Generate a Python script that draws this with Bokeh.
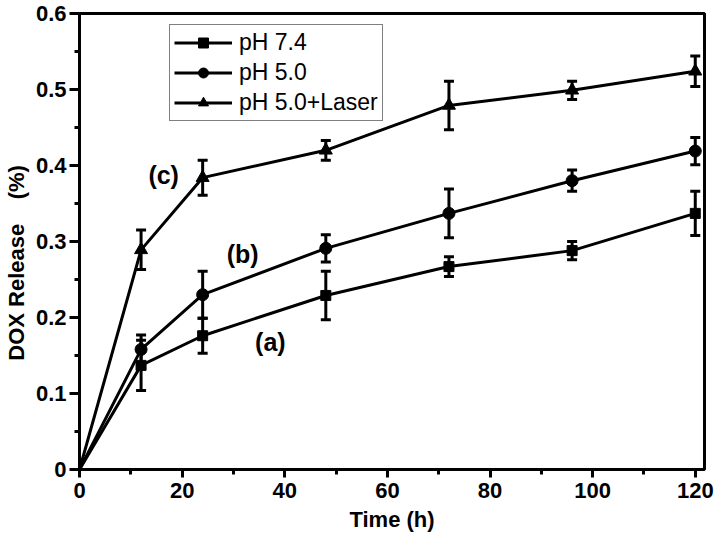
from bokeh.plotting import figure
from bokeh.models import (ColumnDataSource, Range1d, FixedTicker, Whisker, TeeHead,
                          Legend, LegendItem, Label)
from bokeh.embed import file_html
from bokeh.resources import INLINE

# ---- data ----
time_h = [0, 12, 24, 48, 72, 96, 120]
ph74 = [0, 0.137, 0.176, 0.229, 0.267, 0.288, 0.337]
ph74_err = [0, 0.033, 0.023, 0.032, 0.013, 0.012, 0.029]
ph50 = [0, 0.158, 0.230, 0.291, 0.337, 0.380, 0.419]
ph50_err = [0, 0.019, 0.031, 0.018, 0.032, 0.014, 0.018]
laser = [0, 0.289, 0.384, 0.420, 0.479, 0.499, 0.524]
laser_err = [0, 0.026, 0.023, 0.013, 0.032, 0.012, 0.020]
series_names = ["pH 7.4", "pH 5.0", "pH 5.0+Laser"]
markers = ["square", "circle", "triangle"]
x_ticks = [0, 20, 40, 60, 80, 100, 120]
x_minor = [10, 30, 50, 70, 90, 110]
y_ticks = [0.0, 0.1, 0.2, 0.3, 0.4, 0.5, 0.6]
y_minor = [0.05, 0.15, 0.25, 0.35, 0.45, 0.55]
annotations = [("(a)", 37.2, 0.168), ("(b)", 31.8, 0.283), ("(c)", 16.4, 0.387)]

FONT = "Liberation Sans"

p = figure(width=714, height=539, output_backend="svg", toolbar_location=None,
           x_range=Range1d(0, 121.8), y_range=Range1d(0, 0.6),
           min_border_left=75, min_border_right=10, min_border_top=13,
           min_border_bottom=70)
p.grid.visible = False
p.outline_line_color = "black"
p.outline_line_width = 3
p.background_fill_color = "white"
p.border_fill_color = "white"

for ax in (p.xaxis[0], p.yaxis[0]):
    ax.axis_line_width = 3
    ax.major_tick_line_width = 3
    ax.minor_tick_line_width = 3
    ax.major_tick_in = 0
    ax.minor_tick_in = 0
    ax.major_label_text_font = FONT
    ax.major_label_text_font_style = "bold"
    ax.major_label_text_font_size = "22px"
    ax.major_label_text_color = "black"
    ax.axis_label_text_font = FONT
    ax.axis_label_text_font_style = "bold"
    ax.axis_label_text_font_size = "22px"
    ax.axis_label_text_color = "black"

p.xaxis.ticker = FixedTicker(ticks=x_ticks, minor_ticks=x_minor)
p.yaxis.ticker = FixedTicker(ticks=y_ticks, minor_ticks=y_minor)
p.xaxis.major_tick_out = 8
p.xaxis.minor_tick_out = 5
p.yaxis.major_tick_out = 10
p.yaxis.minor_tick_out = 5
p.xaxis.major_label_standoff = 5
p.yaxis.major_label_standoff = 3
p.xaxis.axis_label = "Time (h)"
p.yaxis.axis_label = "DOX Release\u00a0\u00a0\u00a0\u00a0(%)\u00a0\u00a0\u00a0\u00a0\u00a0\u00a0\u00a0"
p.xaxis.axis_label_standoff = 6
p.yaxis.axis_label_standoff = 4
p.yaxis.formatter.use_scientific = False

items = []
all_vals = [ph74, ph50, laser]
all_errs = [ph74_err, ph50_err, laser_err]
for name, mk, vals, errs in zip(series_names, markers, all_vals, all_errs):
    src = dict(x=time_h, y=vals,
               upper=[v + e for v, e in zip(vals, errs)],
               lower=[v - e for v, e in zip(vals, errs)])
    full = ColumnDataSource(src)
    pts = ColumnDataSource({k: v[1:] for k, v in src.items()})
    r_line = p.line("x", "y", source=full, line_color="black", line_width=3)
    w = Whisker(base="x", upper="upper", lower="lower", source=pts, dimension="height",
                line_color="black", line_width=3,
                upper_head=TeeHead(size=10, line_width=3, line_color="black"),
                lower_head=TeeHead(size=10, line_width=3, line_color="black"))
    p.add_layout(w)
    size = {"square": 10, "circle": 12, "triangle": 13}[mk]
    r_pts = p.scatter("x", "y", source=pts, marker=mk, size=size,
                      fill_color="black", line_color="black")
    items.append(LegendItem(label=name, renderers=[r_line, r_pts]))

legend = Legend(items=items, location=(90, 348))
legend.border_line_color = "black"
legend.border_line_width = 1
legend.background_fill_color = "white"
legend.background_fill_alpha = 1
legend.label_text_font = FONT
legend.label_text_font_size = "23px"
legend.label_text_color = "black"
legend.padding = 4
legend.spacing = 3
legend.margin = 0
legend.label_height = 25
legend.glyph_height = 25
legend.glyph_width = 58
legend.label_standoff = 7
p.add_layout(legend)

for txt, xx, yy in annotations:
    p.add_layout(Label(x=xx, y=yy, text=txt, text_font=FONT, text_font_style="bold",
                       text_font_size="25px", text_align="center",
                       text_baseline="middle", text_color="black"))

open("out.html", "w").write(file_html(p, INLINE))
